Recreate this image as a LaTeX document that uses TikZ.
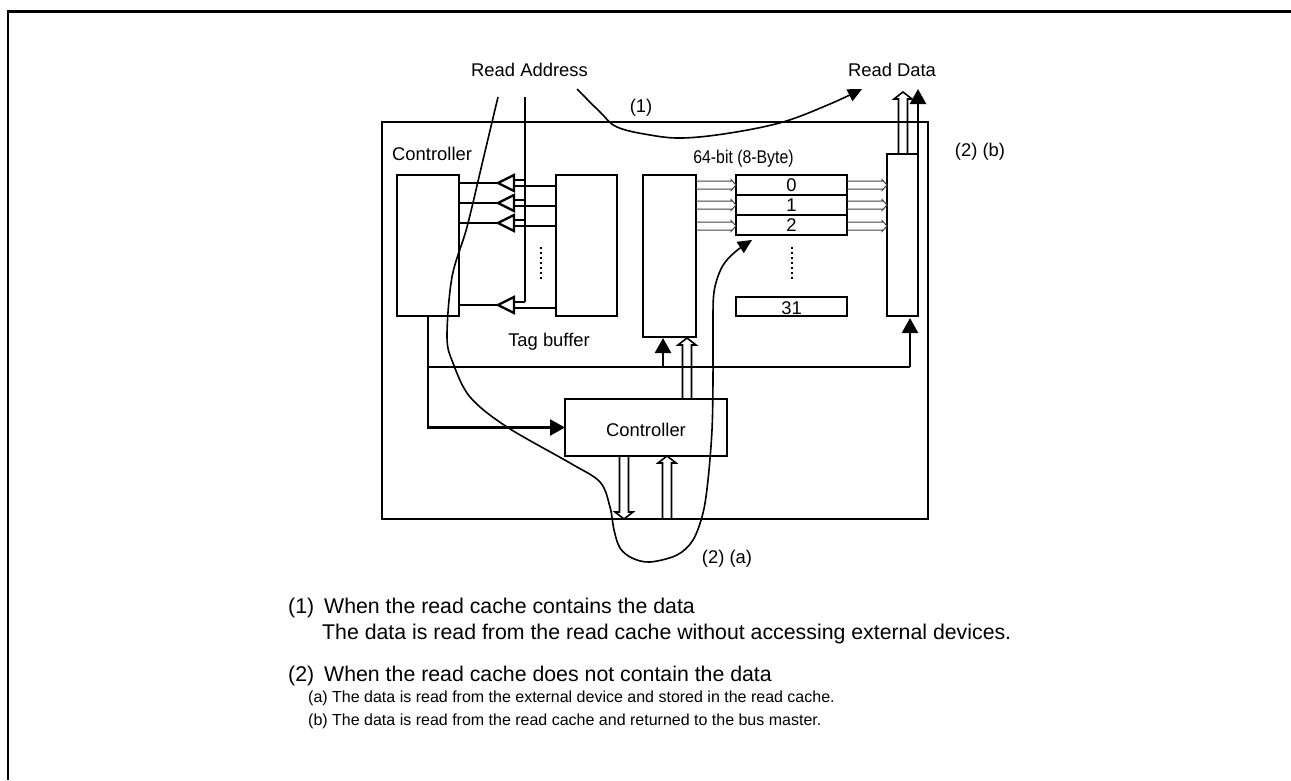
\documentclass[tikz,border=0pt]{standalone}
\usepackage{fontspec}
\setmainfont{Liberation Sans}
\usetikzlibrary{arrows.meta}
\newcommand{\lblfont}{\fontsize{18.4}{22}\selectfont}
\newcommand{\notefont}{\fontsize{21.3}{25}\selectfont}
\newcommand{\smlfont}{\fontsize{16}{19}\selectfont}
\newcommand{\vbus}[4]{% x, y start, y tip, sign (+1 down, -1 up)
  \draw[hol] ({#1-4.5},#2) -- ({#1-4.5},{#3-(#4)*7}) -- ({#1-9},{#3-(#4)*7}) -- (#1,#3)
    -- ({#1+9},{#3-(#4)*7}) -- ({#1+4.5},{#3-(#4)*7}) -- ({#1+4.5},#2);}
\newcommand{\hbus}[4]{% x0, x tip, y1, y2
  \draw[thinbus] (#1,#3) -- ({#2-5},#3) -- ({#2-5},{#3-1.5}) -- (#2,{(#3+#4)/2})
    -- ({#2-5},{#4+1.5}) -- ({#2-5},#4) -- (#1,#4);}
\newcommand{\comparator}[1]{%
  \draw[conn] (459,#1) -- (498,#1);
  \draw[conn, line join=miter] (498,#1) -- (514,{#1-8}) -- (514,{#1+8}) -- cycle;
  \draw[conn] (514,{#1-3}) -- (525,{#1-3});
  \draw[conn] (514,{#1+3}) -- (556,{#1+3});}
\begin{document}
\begin{tikzpicture}[x=1pt,y=-1pt,
  blk/.style={draw, line width=2.4pt, inner sep=0pt, outer sep=0pt, anchor=north west},
  conn/.style={line width=2.4pt},
  fa/.style={-{Triangle[length=15pt,width=16pt]}},
  curve/.style={line width=1.6pt},
  lab/.style={font=\lblfont, inner sep=0pt, anchor=base},
  note/.style={font=\notefont, inner sep=0pt, anchor=base west},
  hol/.style={line width=1.6pt, line join=miter},
  thinbus/.style={line width=1pt, draw=black!75},
  dotcol/.style={line width=2.6pt, dash pattern=on 2.4pt off 2.6pt},
]
\useasboundingbox (0,0) rectangle (1291,780);
% page frame
\draw[line width=2.2pt] (8,780) -- (8,11.5) -- (1291,11.5);

% blocks
\node[blk, minimum width=546pt, minimum height=397pt] (outer) at (382,122) {};
\node[blk, minimum width=62pt, minimum height=141pt] (ctl) at (397,175) {};
\node[blk, minimum width=61pt, minimum height=141pt] (tag) at (556,175) {};
\node[blk, minimum width=53pt, minimum height=162pt] (mid) at (643,175) {};
\node[blk, minimum width=111pt, minimum height=20pt] (r0) at (736,175) {};
\node[blk, minimum width=111pt, minimum height=20pt] (r1) at (736,195) {};
\node[blk, minimum width=111pt, minimum height=20pt] (r2) at (736,215) {};
\node[blk, minimum width=111pt, minimum height=19pt] (r31) at (736,297) {};
\node[blk, minimum width=31pt, minimum height=162pt] (rreg) at (887,154) {};
\node[blk, minimum width=162pt, minimum height=57pt] (bctl) at (565,399) {};

% texts
\node[lab] (ra) at (529.5,76.5) {Read Address};
\node[lab] (rd) at (892,76.5) {Read Data};
\node[lab] (l1) at (641,112) {(1)};
\node[lab] (l2b) at (980,156) {(2) (b)};
\node[lab] (l2a) at (727,563) {(2) (a)};
\node[lab, anchor=base west] (ctltxt) at (392,160) {Controller};
\node[lab] (tagtxt) at (549,346) {Tag buffer};
\node[lab] (bctltxt) at (646,436) {Controller};
\node[lab] (bits) at (743.5,163) {\scalebox{0.86}[1]{64-bit (8-Byte)}};
\node[lab] (t0) at (791.5,191) {0};
\node[lab] (t1) at (791.5,211) {1};
\node[lab] (t2) at (791.5,231) {2};
\node[lab] (t31) at (791.5,314) {31};

% address bus and comparators
\draw[conn] (525,97) -- (525,302);
\comparator{183}
\comparator{203}
\comparator{223}
\comparator{305}
\draw[dotcol] (541,247) -- (541,279);
\draw[dotcol] (792,247) -- (792,279);

% bus arrows into and out of the lines
\hbus{696}{736}{181}{189}
\hbus{696}{736}{201}{209}
\hbus{696}{736}{222}{230}
\hbus{847}{887}{181}{189}
\hbus{847}{887}{201}{209}
\hbus{847}{887}{222}{230}

% control lines
\draw[conn, fa] (428,316) |- (bctl.west);
\draw[conn] (428,367) -- (910,367);
\draw[conn, fa] (910,367) -- (910,318);
\draw[conn, fa] (663,367) -- (663,338);
\draw[conn, fa] (918,156) -- (918,89);

% hollow data arrows
\vbus{687}{398}{338}{-1}
\vbus{903}{154}{92}{-1}
\vbus{624}{456}{519}{1}
\vbus{667}{519}{456}{-1}

% flow curves
\draw[curve, -{Triangle[length=14pt,width=13pt]}] plot[smooth, tension=0.6] coordinates
  {(577,89) (600,112) (617,127) (650,135) (683,138) (730,133) (783,122) (830,104) (862,89)};
\draw[curve, -{Triangle[length=14pt,width=13pt]}] plot[smooth, tension=0.55] coordinates
  {(498,97) (483,160) (467,227) (452,277) (447,337) (453,363) (470,397) (507,427) (570,463)
   (600,482) (610,507) (614,530) (620,548) (632,558) (650,562) (677,555) (693,540) (703,513)
   (708,480) (712,430) (713,380) (713,330) (714,292) (722,267) (735,252) (752,240)};

% notes
\node[note] (n1a) at (288,613) {(1)};
\node[note] (n1b) at (324,613) {When the read cache contains the data};
\node[note] (n1c) at (322,639) {The data is read from the read cache without accessing external devices.};
\node[note] (n2a) at (288,681) {(2)};
\node[note] (n2b) at (324,681) {When the read cache does not contain the data};
\node[note, font=\smlfont] (n2c) at (308,702) {(a) The data is read from the external device and stored in the read cache.};
\node[note, font=\smlfont] (n2d) at (308,725) {(b) The data is read from the read cache and returned to the bus master.};
\end{tikzpicture}
\end{document}
